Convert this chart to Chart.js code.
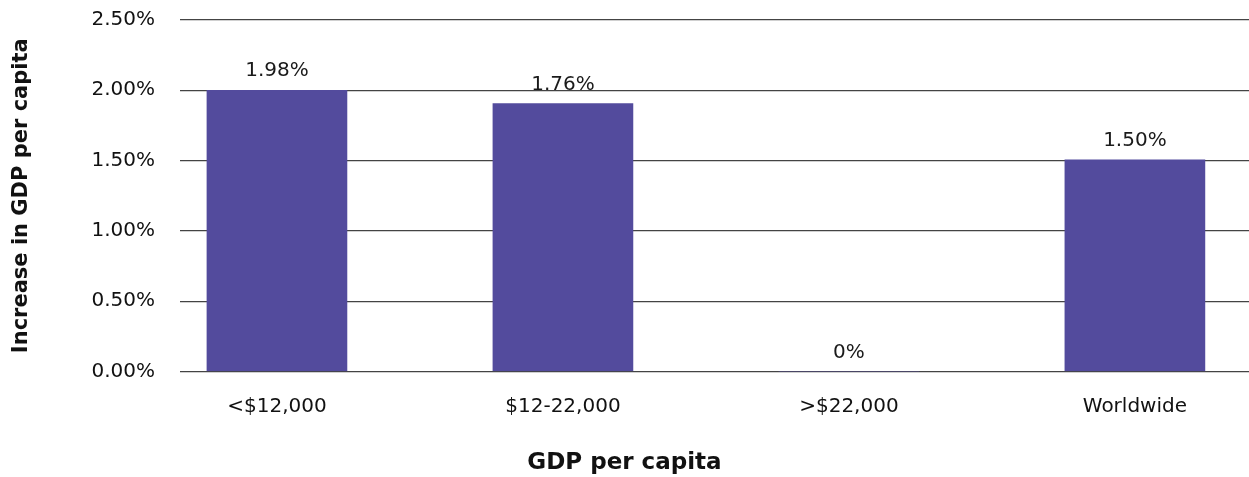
<!DOCTYPE html>
<html>
<head>
<meta charset="utf-8">
<script src="https://cdn.jsdelivr.net/npm/chart.js@4"></script>
<style>
html,body{margin:0;padding:0;background:#fff;}
#wrap{width:1249px;height:477px;}
</style>
</head>
<body>
<div id="wrap"><canvas id="c" width="1249" height="477"></canvas></div>
<script>
const categories = ['<$12,000', '$12-22,000', '>$22,000', 'Worldwide'];
const values = [2.00, 1.905, 0, 1.505];
const valueLabels = ['1.98%', '1.76%', '0%', '1.50%'];
const yTicks = [0, 0.5, 1, 1.5, 2, 2.5];

const FONT = "'DejaVu Sans', sans-serif";

const labelPlugin = {
  id: 'valueLabels',
  afterDatasetsDraw(chart) {
    const ctx = chart.ctx;
    const meta = chart.getDatasetMeta(0);
    ctx.save();
    ctx.font = '20px ' + FONT;
    ctx.fillStyle = '#1a1a1a';
    ctx.textAlign = 'center';
    ctx.textBaseline = 'middle';
    meta.data.forEach((bar, i) => {
      ctx.fillText(valueLabels[i], bar.x, bar.y - 19);
    });
    ctx.restore();
  }
};

new Chart(document.getElementById('c'), {
  type: 'bar',
  data: {
    datasets: [{
      data: values.map((v, i) => ({ x: i, y: v })),
      backgroundColor: '#534B9D',
      barThickness: 140,
      borderWidth: 0
    }]
  },
  options: {
    responsive: false,
    animation: false,
    layout: { padding: { left: 0, right: 0, top: 20, bottom: 0 } },
    plugins: {
      legend: { display: false },
      tooltip: { enabled: false },
      title: {
        display: true,
        position: 'bottom',
        text: 'GDP per capita',
        color: '#111',
        font: { family: FONT, size: 23, weight: 'bold' },
        padding: { top: 0, bottom: 0 }
      }
    },
    scales: {
      x: {
        type: 'linear',
        offset: false,
        min: -0.339,
        max: 3.399,
        afterBuildTicks(scale) {
          scale.ticks = categories.map((c, i) => ({ value: i }));
        },
        afterFit(scale) { scale.height = 78; },
        grid: { display: false, drawTicks: false },
        border: { display: false },
        ticks: {
          callback: (v) => categories[v],
          color: '#111',
          font: { family: FONT, size: 20 },
          padding: 23,
          maxRotation: 0,
          autoSkip: false
        }
      },
      y: {
        min: 0,
        max: 2.5,
        afterBuildTicks(scale) {
          scale.ticks = yTicks.map(v => ({ value: v }));
        },
        afterFit(scale) { scale.width = 180; scale.paddingTop = 0; scale.paddingBottom = 0; },
        grid: { color: '#444', lineWidth: 1.2, drawTicks: false },
        border: { display: false },
        ticks: {
          callback: (v) => v.toFixed(2) + '%',
          color: '#111',
          font: { family: FONT, size: 20 },
          padding: 25
        },
        title: {
          display: true,
          text: 'Increase in GDP per capita',
          color: '#111',
          font: { family: FONT, size: 21, weight: 'bold' },
          padding: { top: 9, bottom: 0 }
        }
      }
    }
  },
  plugins: [labelPlugin]
});
</script>
</body>
</html>
